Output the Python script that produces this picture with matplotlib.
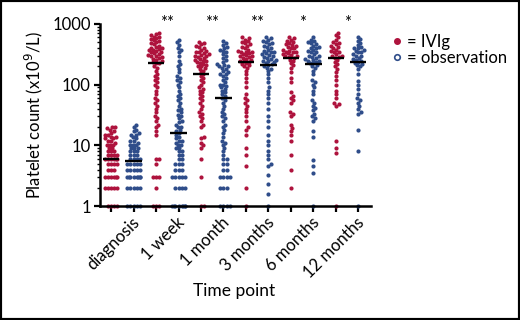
import numpy as np
import matplotlib
matplotlib.use('Agg')
import matplotlib.pyplot as plt
from matplotlib.lines import Line2D
from matplotlib.patches import Rectangle
import matplotlib.transforms as mtransforms

plt.rcParams['font.family'] = ['Lato', 'DejaVu Sans']

time_points = ['diagnosis', '1 week', '1 month', '3 months', '6 months', '12 months']
stars = ['', '**', '**', '**', '*', '*']
groups = ['IVIg', 'observation']
colors = ['#ae133d', '#2f4d8a']

# platelet counts (x10^9/L)
diag_ivig = [1]*4 + [2]*5 + [3]*6 + [4]*3 + [5]*4 + [6]*6 + [7]*4 + [8]*3 + [9]*2 + [10]*3 + \
    [11, 12, 12, 13, 13, 14, 14, 15, 15, 16, 17, 18, 19, 20, 20]
diag_obs = [1]*5 + [2]*5 + [3]*8 + [4]*5 + [5]*5 + [6]*4 + [7]*3 + [8]*3 + [9]*3 + [10]*3 + \
    [11, 12, 12, 13, 14, 15, 15, 16, 17, 18, 20, 22]
wk_ivig = [1, 1, 1, 2, 3, 3, 3, 5, 6, 6,
           15, 17, 20, 22, 25, 28, 30, 35, 40, 45, 50, 55, 60, 70, 80, 90, 100, 110, 120, 130,
           140, 150, 170, 190, 200,
           225, 230, 240, 250, 260, 270, 280, 290, 300, 300, 310, 320, 330, 340, 350, 360, 370,
           380, 390, 400, 410, 420, 440, 460, 480, 500, 520, 540, 560, 580, 600, 620, 650, 680, 700]
wk_obs = [1]*8 + [2]*4 + [3]*5 + [4]*3 + [5]*3 + \
    [6, 6, 7, 7, 8, 8, 9, 9, 10, 10, 11, 12, 12, 13, 14, 15] + \
    [16, 17, 18, 20, 20, 22, 24, 25, 28, 30, 32, 35, 38, 40, 45, 50, 55, 60, 65, 70, 80, 90, 100,
     110, 120, 130, 140, 160, 180, 200, 220, 250, 300, 350, 380, 400, 450, 500, 550]
mo_ivig = [1, 1, 3, 6, 9, 10, 11, 13, 14, 20, 22, 25, 28, 30, 33, 36, 40, 45, 50, 55, 60, 65, 70,
           75, 80, 85, 90, 100, 110, 120, 130, 140,
           150, 160, 170, 180, 190, 200, 200, 210, 220, 230, 240, 250, 250, 260, 270, 280, 290, 300,
           300, 310, 320, 330, 340, 350, 360, 380, 400, 420, 440, 460, 480, 500]
mo_obs = [1]*4 + [2]*3 + [3]*4 + \
    [4, 4, 5, 5, 6, 6, 7, 8, 9, 10, 11, 12, 14, 16, 18, 20, 22, 25, 28, 30, 33, 36, 40, 45, 50, 55,
     60, 65, 70, 75, 80, 85, 90, 95, 100, 100, 110, 120, 130, 140, 150, 150, 160, 170, 180, 190,
     200, 200, 210, 220, 240, 260, 280, 300, 320, 340, 360, 380, 400, 420, 450, 480, 520]
m3_ivig = [1, 2, 4.5, 7, 9, 15, 18, 20, 25, 30, 35, 40, 45, 50, 55, 60, 70, 90, 110, 130, 150, 170,
           190, 200, 210, 220, 230,
           240, 250, 250, 260, 270, 280, 290, 300, 300, 310, 320, 330, 340, 350, 350, 360, 380, 400,
           420, 440, 460, 480, 500, 520, 550, 580, 600]
m3_obs = [1, 1.6, 2.3, 3.3, 4.6, 5, 6, 7, 8, 10, 12, 15, 20, 25, 30, 40, 50, 60, 70, 80, 90, 110,
          130, 150, 170, 180, 190, 200,
          215, 220, 230, 240, 250, 250, 260, 270, 280, 290, 300, 310, 320, 330, 340, 350, 360, 380,
          400, 420, 440, 460, 480, 500, 520, 550, 580, 600]
m6_ivig = [2, 4, 7, 12, 15, 17, 19, 22, 30, 33, 35, 50, 55, 60, 65, 75, 110, 130, 160, 190, 210,
           230, 250, 260,
           280, 290, 300, 300, 310, 320, 330, 340, 350, 350, 360, 380, 400, 400, 420, 440, 450, 460,
           480, 500, 520, 550, 580, 610]
m6_obs = [1, 3.5, 4.6, 5.7, 14, 17, 25, 28, 30, 33, 38, 42, 45, 50, 55, 70, 80, 90, 100, 110, 120,
          150, 170, 190, 200, 210,
          225, 230, 240, 250, 250, 260, 270, 280, 290, 300, 300, 320, 340, 350, 360, 380, 400, 400,
          420, 440, 460, 480, 500, 520, 550, 600]
m12_ivig = [1, 7.5, 9, 12, 45, 48, 50, 60, 70, 80, 100, 120, 140, 160, 180, 200, 220, 240, 260,
            280, 290, 300, 300, 320, 340, 350, 360, 380, 400, 420, 440, 460, 480, 500, 550, 600,
            650, 700]
m12_obs = [1, 8, 18, 33, 36, 40, 45, 50, 55, 60, 70, 85, 100, 115, 150, 180, 200, 210, 220, 230,
           240, 250, 260, 270, 280, 300, 300, 320, 340, 350, 360, 380, 400, 400, 420, 450, 480,
           520, 560, 600]

series = [diag_ivig, diag_obs, wk_ivig, wk_obs, mo_ivig, mo_obs,
          m3_ivig, m3_obs, m6_ivig, m6_obs, m12_ivig, m12_obs]
medians = [6.0, 5.5, 224, 15.7, 149, 60, 241, 208, 274, 220, 272, 236]


def swarm(vals, dx, dy, width):
    # simple beeswarm: closest free x offset for each point, sorted by value
    ys = np.log10(np.sort(np.asarray(vals, dtype=float)))
    px, py = [], []
    for y in ys:
        near = [(x0, (y - y0) / dy) for x0, y0 in zip(px, py) if abs(y - y0) < dy]
        cands = [0.0]
        for x0, v in near:
            h = np.sqrt(max(1 - v * v, 0)) * dx
            cands += [x0 + h, x0 - h]
        cands = sorted(cands, key=abs)
        best = None
        for c in cands:
            if all(((c - x0) / dx) ** 2 + v * v >= 0.999 for x0, v in near):
                best = c
                break
        if best is None or abs(best) > width:
            # crowded row: squeeze in place
            n = len([1 for x0, v in near if abs(v) < 0.3])
            best = ((n + 1) // 2) * (dx * 0.5) * (1 if n % 2 else -1)
            best = float(np.clip(best, -width, width))
        px.append(best)
        py.append(y)
    return np.array(px), 10 ** np.array(py)


fig = plt.figure(figsize=(5.2, 3.2), dpi=100)
ax = fig.add_axes([0.192, 0.356, 0.521, 0.569])

for i, vals in enumerate(series):
    xo, yv = swarm(vals, dx=3.2 / 22.5, dy=3.2 / 60.7, width=0.38)
    ax.scatter(i + xo, yv, s=9, color=colors[i % 2], lw=0, zorder=2, clip_on=False)
    ax.hlines(medians[i], i - 0.36, i + 0.36, color='black', lw=1.7, zorder=3)

ax.set_yscale('log')
ax.set_ylim(1, 1000)
ax.set_xlim(-0.5, 11.55)
ax.set_yticks([1, 10, 100, 1000])
ax.set_yticklabels(['1', '10', '100', '1000'])
ax.set_xticks(np.arange(12))
ax.set_xticklabels([])
for s in ['top', 'right']:
    ax.spines[s].set_visible(False)
for s in ['left', 'bottom']:
    ax.spines[s].set_linewidth(1.8)
    ax.spines[s].set_zorder(4)
ax.tick_params(axis='both', which='major', width=1.6, length=4.5, labelsize=12, pad=2)
ax.tick_params(axis='y', which='minor', width=1.0, length=2.5)

offset = mtransforms.ScaledTranslation(9 / 100, -8 / 100, fig.dpi_scale_trans)
star_off = mtransforms.ScaledTranslation(0, 9 / 100, fig.dpi_scale_trans)
for j, name in enumerate(time_points):
    ax.text(2 * j + 0.5, 1, name, rotation=45, ha='right', va='top', rotation_mode='anchor',
            fontsize=12, transform=ax.transData + offset)
    if stars[j]:
        ax.text(2 * j + 0.5, 1000, stars[j], ha='center', va='top', fontsize=12,
                transform=ax.transData + star_off)

ax.set_ylabel('Platelet count (x10$^9$/L)', fontsize=12, labelpad=5)
fig.text(0.45, 0.09, 'Time point', ha='center', va='center', fontsize=12.5)

handles = [Line2D([], [], ls='', marker='o', ms=4, color=colors[0]),
           Line2D([], [], ls='', marker='o', ms=4, mfc='white', mec=colors[1], mew=1.2)]
fig.legend(handles, ['= ' + g for g in groups], loc='upper left', bbox_to_anchor=(0.737, 0.92),
           frameon=False, handlelength=0.6, handletextpad=0.35, labelspacing=0.0, fontsize=12,
           borderpad=0)

fig.patches.append(Rectangle((0, 0), 1, 1, transform=fig.transFigure, fill=False,
                             edgecolor='black', lw=3))
fig.savefig('out.png', dpi=100)
